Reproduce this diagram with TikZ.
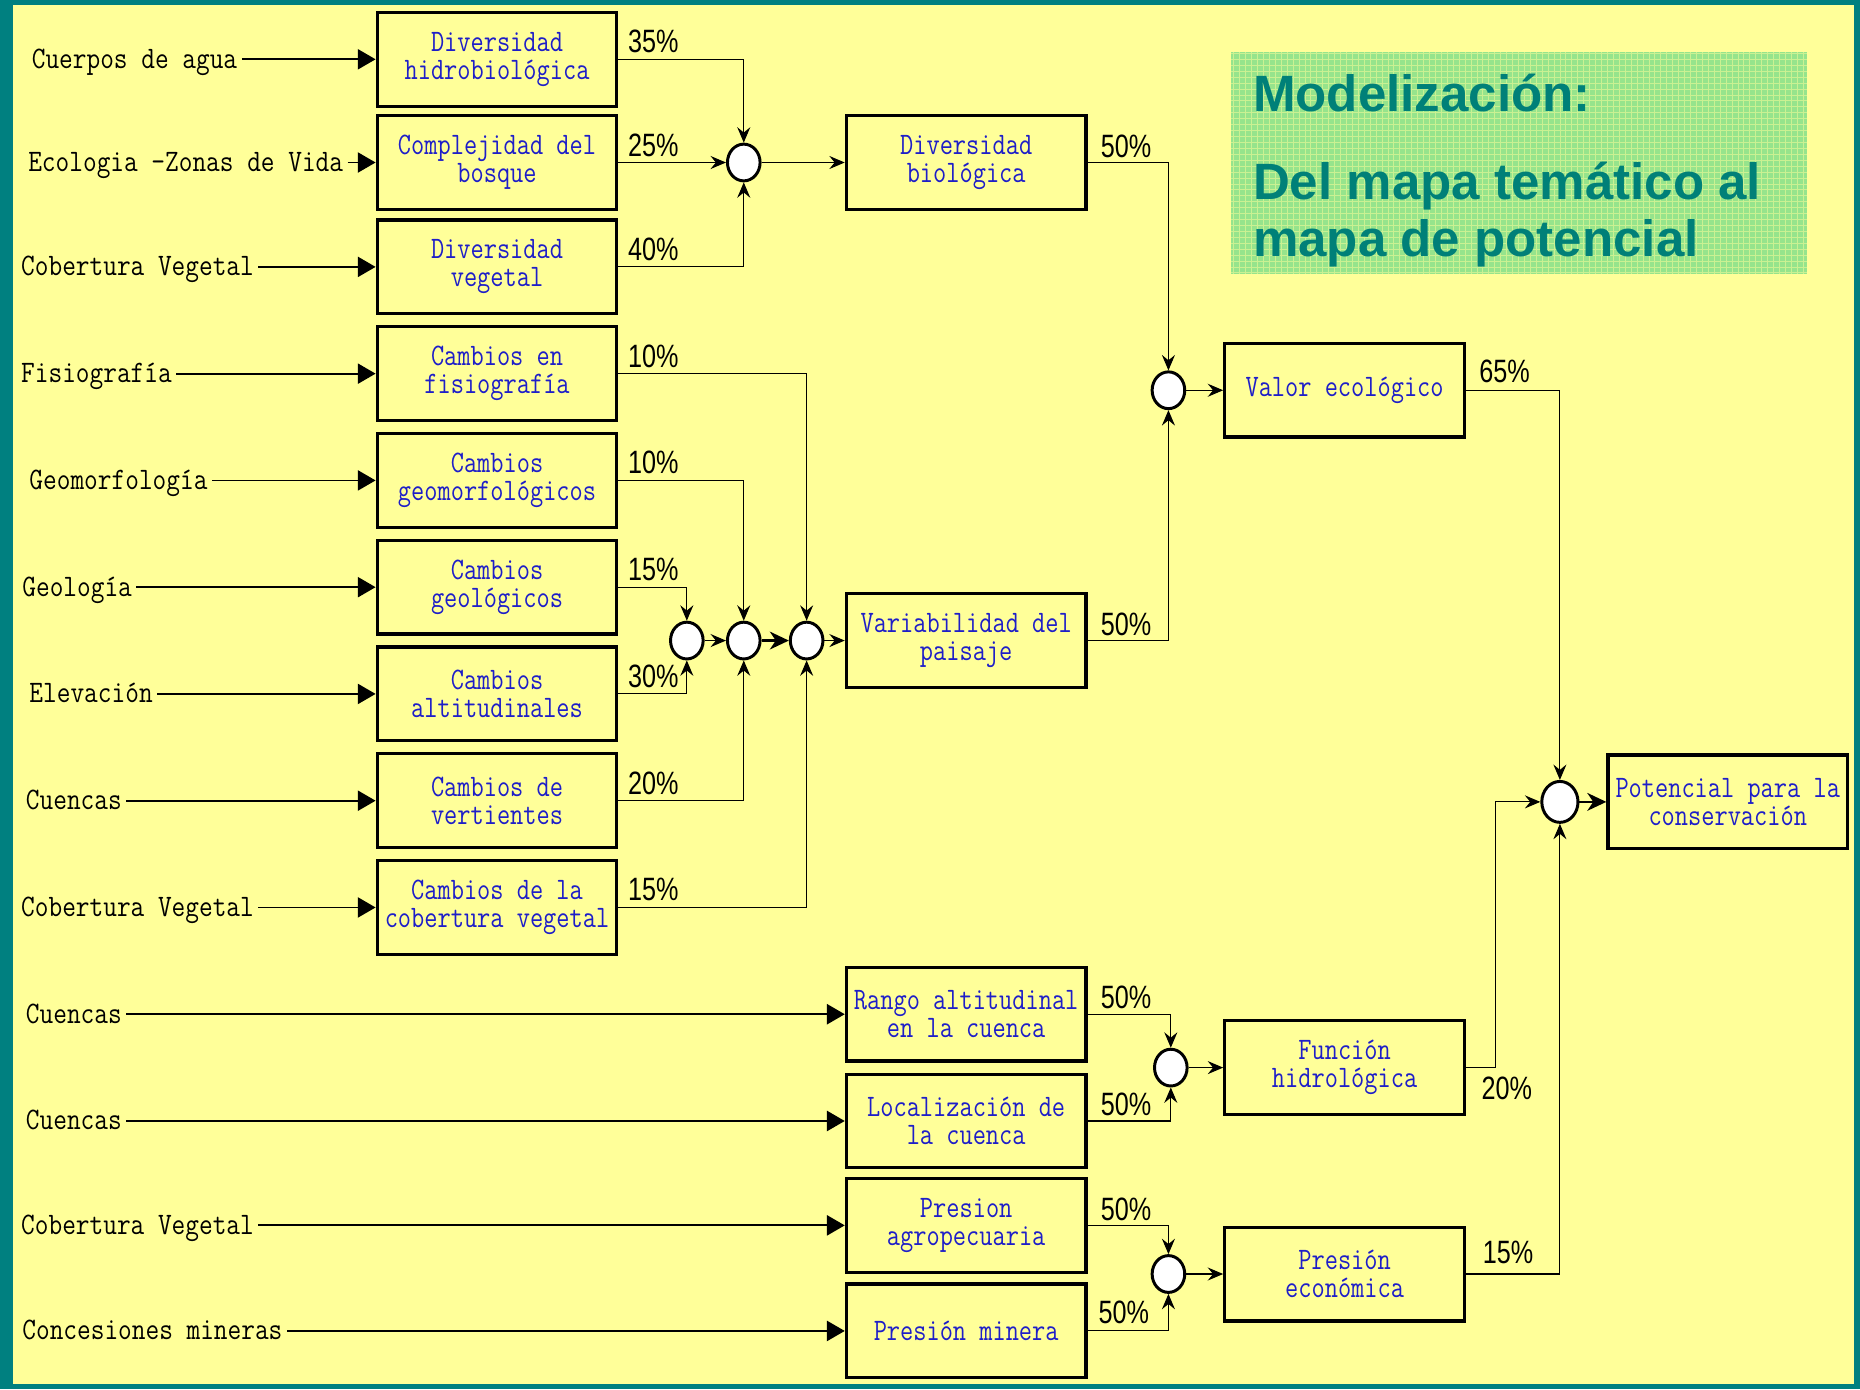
\documentclass[tikz,border=0pt]{standalone}
\usepackage{fontspec}
\usepackage{xcolor}
\usetikzlibrary{shapes.geometric, arrows.meta}

\newfontfamily\entfont[FakeStretch=0.85]{Latin Modern Mono}
\newfontfamily\cajafont[FakeStretch=0.82]{Latin Modern Mono}
\newfontfamily\pctfont[FakeStretch=0.78]{Liberation Sans}
\newfontfamily\titfont{Liberation Sans}

\definecolor{fondo}{RGB}{255,255,153}
\definecolor{marco}{RGB}{0,128,128}
\definecolor{azul}{RGB}{30,30,200}
\definecolor{verde}{RGB}{150,228,140}
\definecolor{titulo}{RGB}{0,128,120}

\begin{document}
\begin{tikzpicture}[x=0.2mm, y=-0.2mm,
  caja/.style={draw, line width=0.55mm, minimum width=40.4mm, minimum height=15.8mm,
    inner sep=0pt, align=center, text=azul, font=\cajafont\fontsize{15}{13.4}\selectfont},
  entrada/.style={anchor=west, inner xsep=2pt, inner ysep=0pt, text height=10pt, text depth=1.4pt,
    font=\entfont\fontsize{15}{13}\selectfont},
  nudo/.style={ellipse, draw, line width=0.5mm, fill=white, minimum width=5.5mm,
    minimum height=6.2mm, inner sep=0pt},
  pct/.style={font=\pctfont\fontsize{15.5}{16}\selectfont, inner sep=1pt, pos=0},
  flecha/.style={-{Triangle[length=3mm,width=3.4mm]}, line width=0.3mm},
  liga/.style={-{Stealth[length=2.6mm,width=2.2mm,inset=0.9mm]}, line width=0.18mm},
  ligagruesa/.style={-{Stealth[length=3.2mm,width=3mm,inset=1mm]}, line width=0.45mm},
  titular/.style={anchor=base west, inner sep=0pt, text=titulo,
    font=\titfont\bfseries\fontsize{24.5}{28}\selectfont}]

% Fondo
\fill[marco] (0,0) rectangle (1568,1171);
\fill[fondo] (11,4) rectangle (1563,1167);

% Título
\fill[verde] (1038,44) rectangle (1523,231);
\draw[fondo, line width=0.12mm, opacity=0.5, step=1mm] (1038,231) grid (1523,44);
\node[titular] (tit1) at (1056,94) {Modelización:};
\node[titular] (tit2) at (1056,168) {Del mapa temático al};
\node[titular] (tit3) at (1056,216) {mapa de potencial};

% Entradas
\node[entrada] (e1) at (23,50) {Cuerpos de agua};
\node[entrada] (e2) at (20,137) {Ecologia -Zonas de Vida};
\node[entrada] (e3) at (14,225) {Cobertura Vegetal};
\node[entrada] (e4) at (14,315) {Fisiografía};
\node[entrada] (e5) at (21,405) {Geomorfología};
\node[entrada] (e6) at (15,495) {Geología};
\node[entrada] (e7) at (21,585) {Elevación};
\node[entrada] (e8) at (18,675) {Cuencas};
\node[entrada] (e9) at (14,765) {Cobertura Vegetal};
\node[entrada] (e10) at (18,855) {Cuencas};
\node[entrada] (e11) at (18,945) {Cuencas};
\node[entrada] (e12) at (14,1033) {Cobertura Vegetal};
\node[entrada] (e13) at (15,1122) {Concesiones mineras};

% Cajas, primera columna
\node[caja] (c1) at (419,50) {Diversidad\\hidrobiológica};
\node[caja] (c2) at (419,137) {Complejidad del\\bosque};
\node[caja] (c3) at (419,225) {Diversidad\\vegetal};
\node[caja] (c4) at (419,315) {Cambios en\\fisiografía};
\node[caja] (c5) at (419,405) {Cambios\\geomorfológicos};
\node[caja] (c6) at (419,495) {Cambios\\geológicos};
\node[caja] (c7) at (419,585) {Cambios\\altitudinales};
\node[caja] (c8) at (419,675) {Cambios de\\vertientes};
\node[caja] (c9) at (419,765) {Cambios de la\\cobertura vegetal};

% Cajas, segunda columna
\node[caja] (db) at (814.5,137) {Diversidad\\biológica};
\node[caja] (vp) at (814.5,540) {Variabilidad del\\paisaje};
\node[caja] (ra) at (814.5,855) {Rango altitudinal\\en la cuenca};
\node[caja] (lc) at (814.5,945) {Localización de\\la cuenca};
\node[caja] (pa) at (814.5,1033) {Presion\\agropecuaria};
\node[caja] (pm) at (814.5,1122) {Presión minera};

% Cajas, tercera columna y final
\node[caja] (ve) at (1133.5,329) {Valor ecológico};
\node[caja] (fh) at (1133.5,900) {Función\\hidrológica};
\node[caja] (pe) at (1133.5,1074) {Presión\\económica};
\node[caja] (pc) at (1456.5,676) {Potencial para la\\conservación};

% Nudos
\node[nudo] (jA) at (627,137) {};
\node[nudo] (jB1) at (579,540) {};
\node[nudo] (jB2) at (627,540) {};
\node[nudo] (jB3) at (680,540) {};
\node[nudo] (jV) at (985,329) {};
\node[nudo] (jF) at (987,900) {};
\node[nudo] (jE) at (985,1074) {};
\node[nudo, minimum width=6.1mm, minimum height=6.9mm] (jP) at (1315,676) {};

% Flechas de entrada
\foreach \a/\b in {e1/c1, e2/c2, e3/c3, e4/c4, e5/c5, e6/c6, e7/c7, e8/c8, e9/c9,
                   e10/ra, e11/lc, e12/pa, e13/pm}
  \draw[flecha] (\a.east) -- (\b.west);

% Diversidad biológica
\draw[liga] (c1.east) -| node[pct, anchor=south west, xshift=1.2mm, yshift=0.6mm] {35\%} (jA.north);
\draw[liga] (c2.east) -- node[pct, anchor=south west, xshift=1.2mm, yshift=0.6mm] {25\%} (jA.west);
\draw[liga] (c3.east) -| node[pct, anchor=south west, xshift=1.2mm, yshift=0.6mm] {40\%} (jA.south);
\draw[liga] (jA.east) -- (db.west);

% Variabilidad del paisaje
\draw[liga] (c4.east) -| node[pct, anchor=south west, xshift=1.2mm, yshift=0.6mm] {10\%} (jB3.north);
\draw[liga] (c5.east) -| node[pct, anchor=south west, xshift=1.2mm, yshift=0.6mm] {10\%} (jB2.north);
\draw[liga] (c6.east) -| node[pct, anchor=south west, xshift=1.2mm, yshift=0.6mm] {15\%} (jB1.north);
\draw[liga] (c7.east) -| node[pct, anchor=south west, xshift=1.2mm, yshift=0.6mm] {30\%} (jB1.south);
\draw[liga] (c8.east) -| node[pct, anchor=south west, xshift=1.2mm, yshift=0.6mm] {20\%} (jB2.south);
\draw[liga] (c9.east) -| node[pct, anchor=south west, xshift=1.2mm, yshift=0.6mm] {15\%} (jB3.south);
\draw[liga] (jB1.east) -- (jB2.west);
\draw[ligagruesa] (jB2.east) -- (jB3.west);
\draw[liga] (jB3.east) -- (vp.west);

% Valor ecológico
\draw[liga] (db.east) -| node[pct, anchor=south west, xshift=1.8mm, yshift=0.4mm] {50\%} (jV.north);
\draw[liga] (vp.east) -| node[pct, anchor=south west, xshift=1.8mm, yshift=0.4mm] {50\%} (jV.south);
\draw[liga] (jV.east) -- (ve.west);

% Función hidrológica
\draw[liga] (ra.east) -| node[pct, anchor=south west, xshift=1.8mm, yshift=0.4mm] {50\%} (jF.north);
\draw[liga] (lc.east) -| node[pct, anchor=south west, xshift=1.8mm, yshift=0.4mm] {50\%} (jF.south);
\draw[liga] (jF.east) -- (fh.west);

% Presión económica
\draw[liga] (pa.east) -| node[pct, anchor=south west, xshift=1.8mm, yshift=0.4mm] {50\%} (jE.north);
\draw[liga] (pm.east) -| node[pct, anchor=south west, xshift=1.4mm, yshift=0.8mm] {50\%} (jE.south);
\draw[liga] (jE.east) -- (pe.west);

% Potencial para la conservación
\draw[liga] (ve.east) -| node[pct, anchor=south west, xshift=1.8mm, yshift=0.8mm] {65\%} (jP.north);
\draw[liga] (fh.east) -- node[pct, anchor=north west, xshift=2.2mm, yshift=-1.2mm] {20\%} ++(25,0) |- (jP.west);
\draw[liga] (pe.east) -| node[pct, anchor=south west, xshift=2.4mm, yshift=1.2mm] {15\%} (jP.south);
\draw[ligagruesa] (jP.east) -- (pc.west);

\end{tikzpicture}
\end{document}
